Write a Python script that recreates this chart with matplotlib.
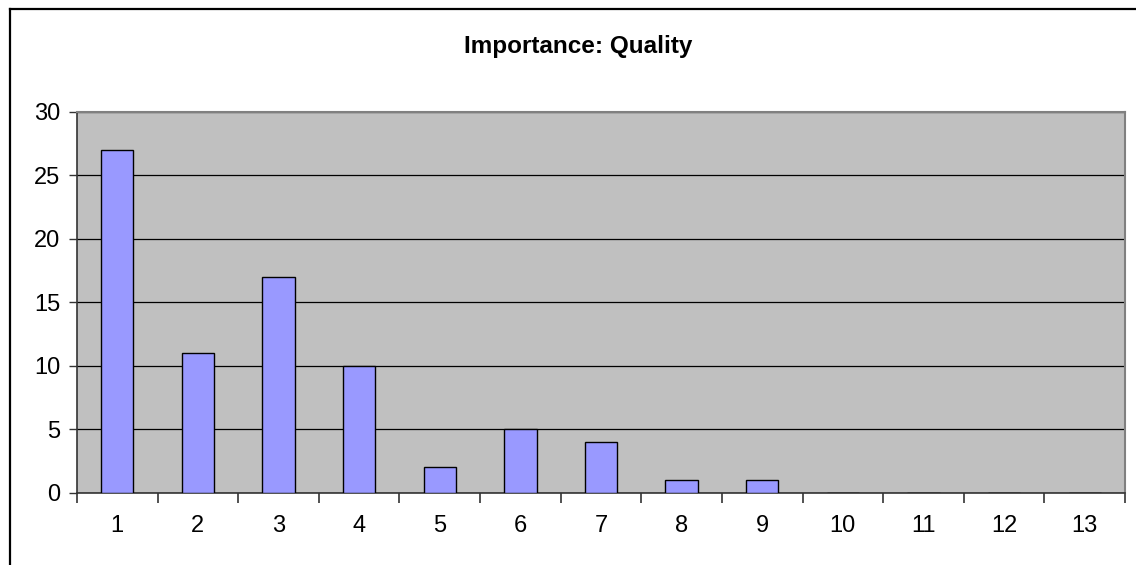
import matplotlib
matplotlib.use("Agg")
import matplotlib.pyplot as plt
from matplotlib.lines import Line2D
import numpy as np

plt.rcParams['font.family'] = ['Liberation Sans', 'DejaVu Sans']

# data
categories = [str(i) for i in range(1, 14)]
counts = [27, 11, 17, 10, 2, 5, 4, 1, 1, 0, 0, 0, 0]
title = "Importance: Quality"

fig = plt.figure(figsize=(11.36, 5.65), dpi=100)
W, H = 1136, 565

# outer chart border (only left and top visible in the picture)
fig.add_artist(Line2D([9.5 / W, 9.5 / W], [0, 1 - 9 / H], color='black', lw=1.6,
                      transform=fig.transFigure))
fig.add_artist(Line2D([9.5 / W, 1], [1 - 9 / H, 1 - 9 / H], color='black', lw=1.6,
                      transform=fig.transFigure))

ax = fig.add_axes([77 / W, (H - 492.5) / H, (1125 - 77) / W, (492.5 - 112) / H])
ax.set_facecolor('#C0C0C0')

x = np.arange(1, len(categories) + 1)
ax.bar(x, counts, width=0.4, color='#9999FF', edgecolor='black', linewidth=1.0, zorder=3)

ax.set_xlim(0.5, len(categories) + 0.5)
ax.set_ylim(0, 30)
ax.set_yticks(range(0, 31, 5))
ax.yaxis.grid(True, color='black', linewidth=0.9, zorder=1)
ax.set_axisbelow(True)

ax.set_xticks(x)
ax.set_xticklabels(categories)
ax.set_xticks(np.arange(0.5, len(categories) + 1, 1), minor=True)
ax.tick_params(axis='x', which='major', length=0, pad=16, labelsize=17)
ax.tick_params(axis='x', which='minor', length=7, width=1.2, direction='out', color='#333333')
ax.tick_params(axis='y', length=6, width=1.0, pad=6, labelsize=17, color='#333333')

for side in ['top', 'right']:
    ax.spines[side].set_color('#808080')
    ax.spines[side].set_linewidth(1.5)
for side in ['left', 'bottom']:
    ax.spines[side].set_color('#333333')
    ax.spines[side].set_linewidth(1.2)

fig.text(578 / W, 1 - 46 / H, title, ha='center', va='center',
         fontsize=17.5, fontweight='bold')

fig.savefig("out.png", dpi=100)
